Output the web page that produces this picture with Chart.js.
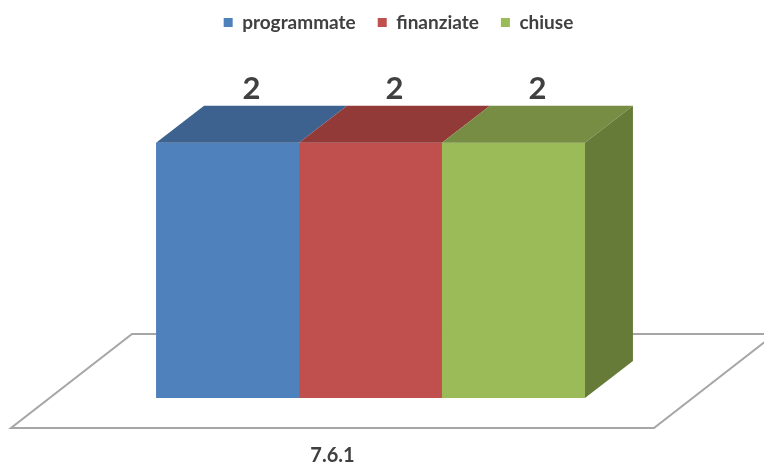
<!DOCTYPE html>
<html>
<head>
<meta charset="utf-8">
<script src="https://cdn.jsdelivr.net/npm/chart.js@4"></script>
<style>
  html, body { margin: 0; padding: 0; background: #fff; }
  canvas { display: block; }
</style>
</head>
<body>
<canvas id="chart" width="764" height="468"></canvas>
<script>
// data
const categories = ['7.6.1'];
const seriesNames = ['programmate', 'finanziate', 'chiuse'];
const programmate = [2];
const finanziate = [2];
const chiuse = [2];

// colours: front, top, side
const fronts = ['#4F81BD', '#C0504D', '#9BBB59'];
const tops = ['#3D628F', '#923A38', '#768D43'];
const sides = ['#385A84', '#863533', '#667B37'];

// 3D depth of the bars and floor
const depthX = 48, depthY = 37;

const bar3d = {
  id: 'bar3d',
  afterLayout(chart) {
    // legend sits a bit right of the plot centre
    if (chart.legend) {
      chart.legend.left += 28;
      chart.legend.right += 28;
    }
  },
  beforeDatasetsDraw(chart) {
    const { ctx, chartArea } = chart;
    const base = chart.scales.y.getPixelForValue(0);
    // floor: front edge shifted toward viewer, back edge behind bars
    const fx = -38, fy = 30, bx = 83, by = -64;
    const l = chartArea.left, r = chartArea.right;
    ctx.save();
    ctx.beginPath();
    ctx.moveTo(l + fx, base + fy);
    ctx.lineTo(r + fx, base + fy);
    ctx.lineTo(r + bx, base + by);
    ctx.lineTo(l + bx, base + by);
    ctx.closePath();
    ctx.fillStyle = '#ffffff';
    ctx.fill();
    ctx.strokeStyle = '#a6a6a6';
    ctx.lineWidth = 2;
    ctx.stroke();
    ctx.restore();
  },
  afterDatasetsDraw(chart) {
    const { ctx } = chart;
    const n = chart.data.datasets.length;
    ctx.save();
    chart.data.datasets.forEach((ds, i) => {
      const meta = chart.getDatasetMeta(i);
      meta.data.forEach((bar, j) => {
        const left = bar.x - bar.width / 2, right = bar.x + bar.width / 2;
        const top = bar.y, base = bar.base;
        // top face
        ctx.beginPath();
        ctx.moveTo(left, top);
        ctx.lineTo(right, top);
        ctx.lineTo(right + depthX, top - depthY);
        ctx.lineTo(left + depthX, top - depthY);
        ctx.closePath();
        ctx.fillStyle = tops[i];
        ctx.fill();
        // side face only visible for last series
        if (i === n - 1) {
          ctx.beginPath();
          ctx.moveTo(right, top);
          ctx.lineTo(right + depthX, top - depthY);
          ctx.lineTo(right + depthX, base - depthY);
          ctx.lineTo(right, base);
          ctx.closePath();
          ctx.fillStyle = sides[i];
          ctx.fill();
        }
        // value label above the top face
        ctx.fillStyle = '#404040';
        ctx.font = 'bold 31px Lato';
        ctx.textAlign = 'center';
        ctx.textBaseline = 'alphabetic';
        ctx.fillText(String(ds.data[j]), bar.x + depthX / 2, top - depthY - 7);
      });
    });
    ctx.restore();
  }
};

new Chart(document.getElementById('chart'), {
  type: 'bar',
  data: {
    labels: categories,
    datasets: [
      { label: seriesNames[0], data: programmate, backgroundColor: fronts[0] },
      { label: seriesNames[1], data: finanziate, backgroundColor: fronts[1] },
      { label: seriesNames[2], data: chiuse, backgroundColor: fronts[2] }
    ]
  },
  options: {
    responsive: false,
    animation: false,
    layout: { padding: { left: 49, right: 72, top: -9, bottom: -46 } },
    categoryPercentage: 0.667,
    barPercentage: 1,
    plugins: {
      legend: {
        position: 'top',
        labels: {
          boxWidth: 9,
          boxHeight: 9,
          padding: 22,
          color: '#404040',
          font: { family: 'Lato', size: 19, weight: 'bold' }
        }
      },
      tooltip: { enabled: false }
    },
    scales: {
      x: {
        grid: { display: false, drawTicks: false },
        border: { display: false },
        ticks: {
          color: '#404040',
          padding: 46,
          labelOffset: -38,
          font: { family: 'Lato', size: 20, weight: 'bold' }
        }
      },
      y: {
        display: false,
        min: 0,
        max: 2.79
      }
    }
  },
  plugins: [bar3d]
});
</script>
</body>
</html>
